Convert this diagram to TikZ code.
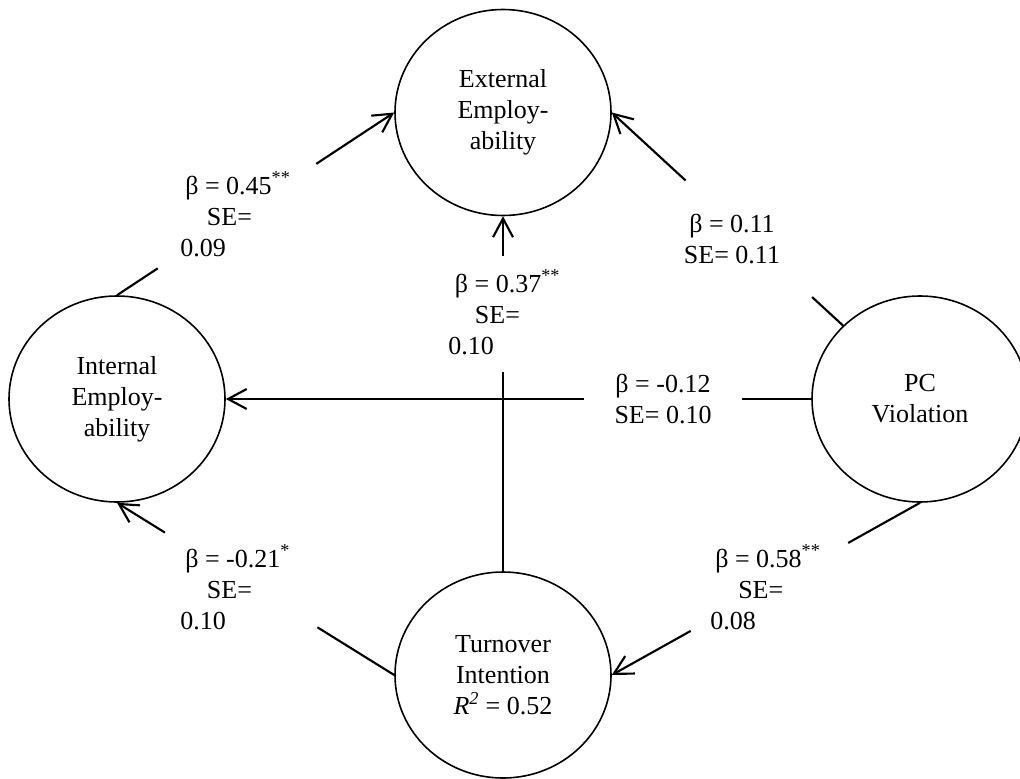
\documentclass[tikz,border=0pt]{standalone}
\usepackage{fontspec}
\setmainfont{Liberation Serif}
\usetikzlibrary{arrows.meta,shapes.geometric,calc}
\begin{document}
\begin{tikzpicture}[x=0.75pt,y=-0.75pt,
  latent/.style={ellipse,draw,line width=1.2pt,minimum width=162pt,minimum height=154.5pt,inner sep=0pt,align=center,font=\fontsize{19.5}{23.25}\selectfont},
  conn/.style={line width=1.6pt},
  arr/.style={line width=1.6pt,-{Straight Barb[length=14pt,width=15pt]}},
  lab/.style={inner sep=0pt,anchor=base west,font=\fontsize{19.5}{23.25}\selectfont}]
\useasboundingbox (0,0) rectangle (1020,778);
% latent variables
\node[latent] (ext) at (503,112.5) {External\\Employ-\\ability};
\node[latent] (int) at (117,399) {Internal\\Employ-\\ability};
\node[latent] (pc)  at (920,399) {PC\\Violation};
\node[latent] (ti)  at (503,675) {Turnover\\Intention\\\textit{R}\textsuperscript{\textit{2}} = 0.52};
% Internal -> External
\draw[conn] (int.north) -- ($(int.north)!0.147!(ext.west)$);
\draw[arr] ($(int.north)!0.719!(ext.west)$) -- (ext.west);
% PC -> External
\draw[conn] (pc.north west) -- ($(pc.north west)!0.134!(ext.east)$);
\draw[arr] ($(pc.north west)!0.681!(ext.east)$) -- (ext.east);
% Turnover -> External
\draw[conn] (ti.north) -- ($(ti.north)!0.56!(ext.south)$);
\draw[arr] ($(ti.north)!0.888!(ext.south)$) -- (ext.south);
% PC -> Internal
\draw[conn] (pc.west) -- ($(pc.west)!0.1175!(int.east)$);
\draw[arr] ($(pc.west)!0.388!(int.east)$) -- (int.east);
% Turnover -> Internal
\draw[conn] (ti.west) -- ($(ti.west)!0.277!(int.south)$);
\draw[arr] ($(ti.west)!0.827!(int.south)$) -- (int.south);
% PC -> Turnover
\draw[conn] (pc.south) -- ($(pc.south)!0.233!(ti.east)$);
\draw[arr] ($(pc.south)!0.744!(ti.east)$) -- (ti.east);
% labels
\node[lab] (l1) at (180,194) {\begin{tabular}[t]{@{}l@{}}\hspace*{3.75pt}β = 0.45\textsuperscript{**}\\ \hspace*{20pt}SE=\\ 0.09\end{tabular}};
\node[lab,anchor=base] (l2) at (732,232) {\begin{tabular}[t]{@{}c@{}}β = 0.11\\ SE= 0.11\end{tabular}};
\node[lab] (l3) at (448,292) {\begin{tabular}[t]{@{}l@{}}\hspace*{5pt}β = 0.37\textsuperscript{**}\\ \hspace*{20pt}SE=\\ 0.10\end{tabular}};
\node[lab,anchor=base] (l4) at (663,392) {\begin{tabular}[t]{@{}c@{}}β = -0.12\\ SE= 0.10\end{tabular}};
\node[lab] (l5) at (180,567) {\begin{tabular}[t]{@{}l@{}}\hspace*{3.75pt}β = -0.21\textsuperscript{*}\\ \hspace*{20pt}SE=\\ 0.10\end{tabular}};
\node[lab] (l6) at (710,567) {\begin{tabular}[t]{@{}l@{}}\hspace*{3.75pt}β = 0.58\textsuperscript{**}\\ \hspace*{21pt}SE=\\ 0.08\end{tabular}};
\end{tikzpicture}
\end{document}
